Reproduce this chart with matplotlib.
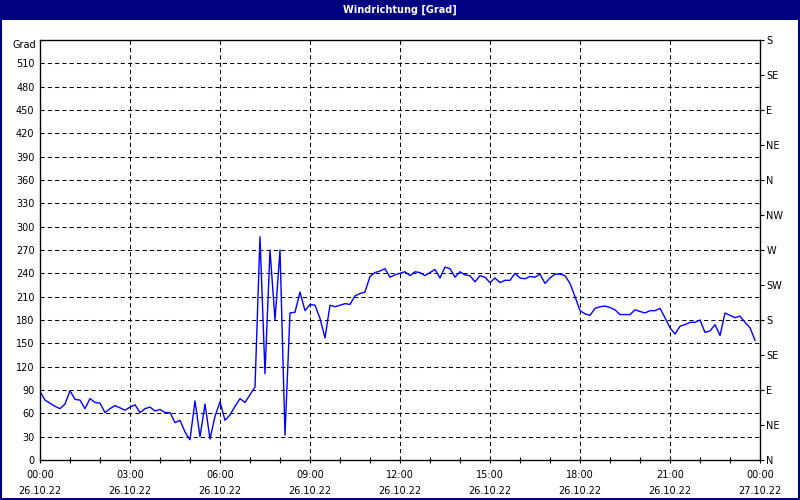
import matplotlib
matplotlib.use('Agg')
import matplotlib.pyplot as plt
import matplotlib.dates as mdates
from matplotlib.patches import Rectangle
import pandas as pd

# Windrichtung in 10-Minuten-Schritten, 26.10.22 00:00 - 23:50
start = '2022-10-26 00:00'
wind_dir = [
    88, 77, 73, 69, 66, 72, 89, 78, 77, 66, 79, 74,
    73, 61, 66, 70, 67, 64, 68, 71, 61, 66, 68, 63,
    65, 61, 61, 48, 51, 36, 26, 76, 30, 72, 27, 56,
    75, 51, 58, 69, 79, 74, 84, 94, 287, 111, 270, 180,
    270, 32, 189, 190, 216, 192, 200, 199, 182, 157, 199, 197,
    199, 201, 200, 211, 214, 216, 236, 241, 243, 246, 235, 238,
    240, 242, 237, 242, 241, 237, 241, 245, 234, 248, 246, 235,
    242, 238, 237, 229, 237, 235, 228, 234, 228, 231, 231, 240,
    234, 233, 236, 235, 239, 227, 234, 239, 239, 237, 227, 210,
    192, 188, 186, 195, 197, 198, 196, 193, 187, 187, 187, 193,
    191, 189, 192, 192, 195, 183, 170, 162, 172, 174, 177, 177,
    180, 164, 166, 174, 160, 189, 186, 183, 185, 177, 170, 154,
]
left_ticks = list(range(0, 511, 30))
compass_ticks = list(range(0, 541, 45))
compass_labels = ['N', 'NE', 'E', 'SE', 'S', 'SW', 'W', 'NW',
                  'N', 'NE', 'E', 'SE', 'S']

times = pd.date_range(start, periods=len(wind_dir), freq='10min')

navy = '#000080'
dash = (0, (4, 3))
fs = 7

fig = plt.figure(figsize=(8, 5), dpi=100)
fig.patch.set_facecolor('white')

# Titelleiste + Rahmen
fig.patches.append(Rectangle((0, 1 - 20 / 500), 1, 20 / 500, transform=fig.transFigure,
                             facecolor=navy, edgecolor='none', zorder=0))
fig.patches.append(Rectangle((1 / 800, 1 / 500), 1 - 2 / 800, 1 - 2 / 500,
                             transform=fig.transFigure, fill=False,
                             edgecolor=navy, linewidth=1.5, zorder=5))
fig.text(0.5, 1 - 10 / 500, 'Windrichtung [Grad]', color='white', fontsize=7,
         fontweight='bold', ha='center', va='center')

ax = fig.add_axes([40 / 800, 40 / 500, 720 / 800, 420 / 500])
ax.plot(times, wind_dir, color='#0000ff', linewidth=1.0, zorder=3)

ax.set_ylim(0, 540)
ax.set_xlim(pd.Timestamp('2022-10-26 00:00'), pd.Timestamp('2022-10-27 00:00'))
ax.set_yticks(left_ticks)
ax.tick_params(axis='y', length=0, pad=4, labelsize=fs)

ax.xaxis.set_major_locator(mdates.HourLocator(byhour=range(0, 24, 3)))
ax.xaxis.set_minor_locator(mdates.HourLocator())
ax.xaxis.set_major_formatter(mdates.DateFormatter('%H:%M\n%d.%m.%y'))
ax.tick_params(axis='x', which='both', direction='inout', length=4, width=0.8,
               pad=5, labelsize=fs)
for lbl in ax.get_xticklabels():
    lbl.set_linespacing(1.8)

ax.grid(True, which='major', color='black', linestyle=dash, linewidth=0.75)
for s in ax.spines.values():
    s.set_linewidth(0.9)

fig.text(36 / 800, 1 - 45 / 500, 'Grad', fontsize=fs, ha='right', va='center')

ax2 = ax.twinx()
ax2.set_ylim(0, 540)
ax2.set_yticks(compass_ticks)
ax2.set_yticklabels(compass_labels)
ax2.tick_params(axis='y', direction='out', length=3, width=0.8, pad=1.5, labelsize=fs)

fig.savefig('out.png', dpi=100)
